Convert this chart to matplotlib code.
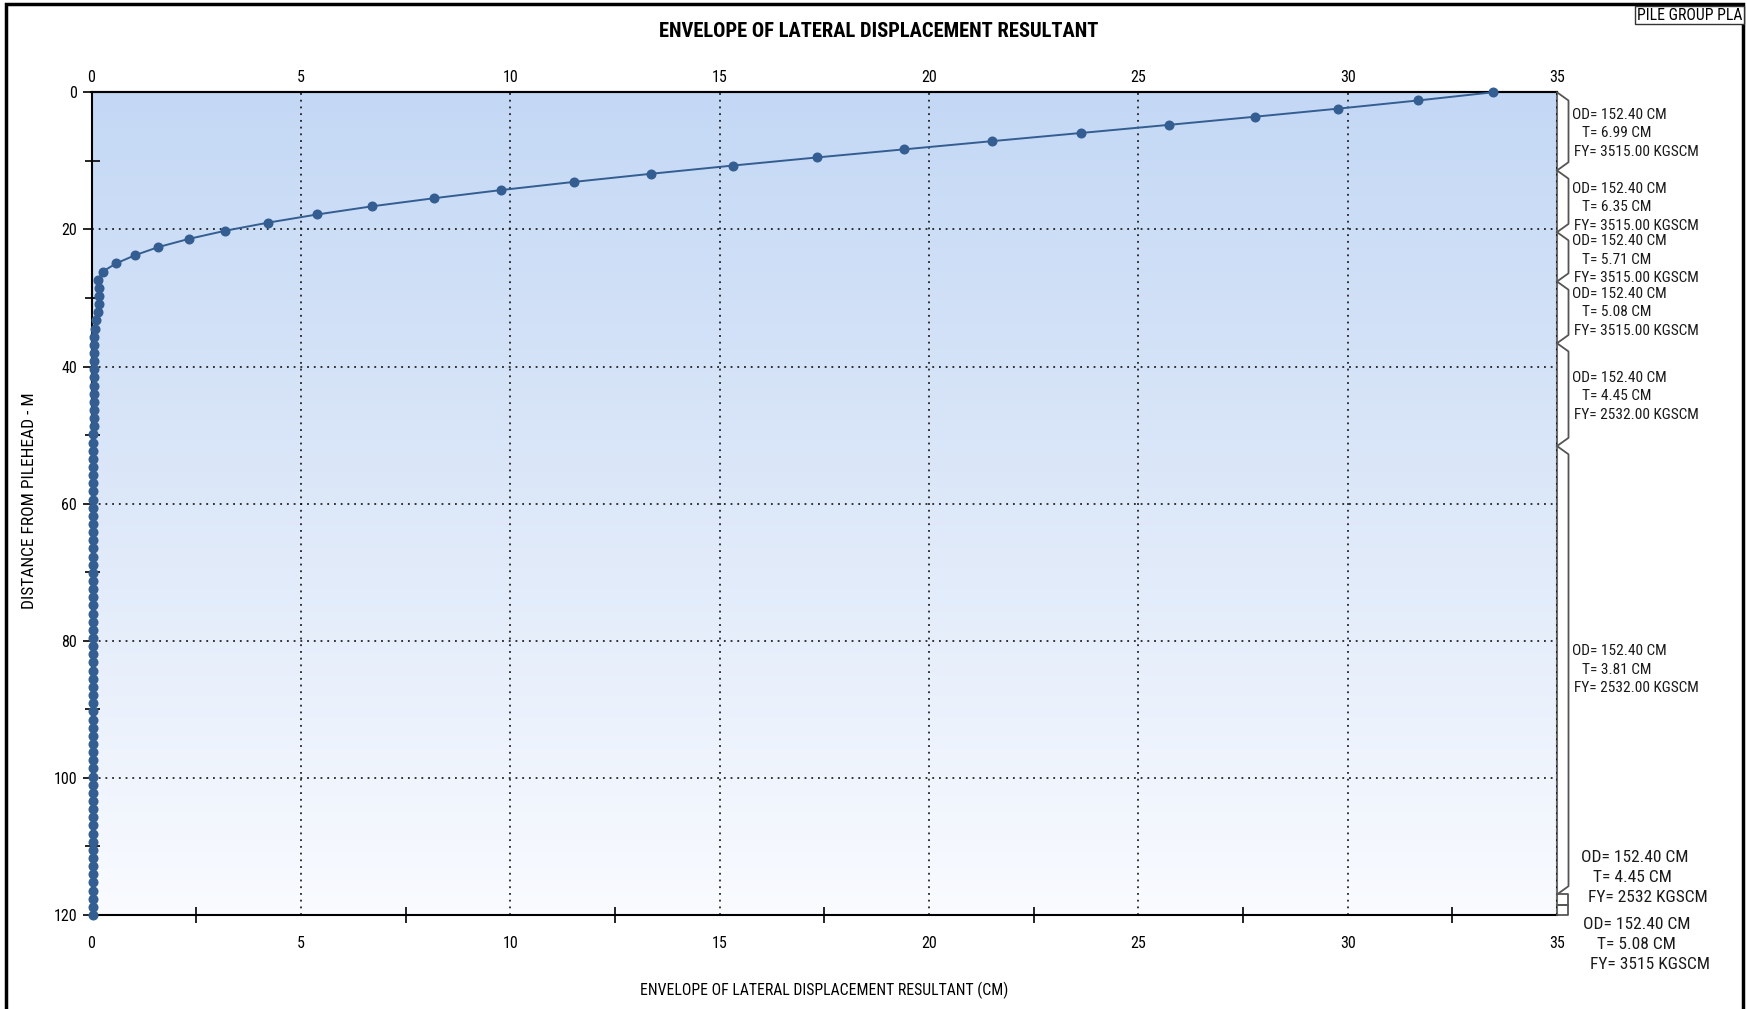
"""
Envelope of lateral displacement resultant vs depth (pile group plot)
"""
import matplotlib
matplotlib.use('Agg')
import matplotlib.pyplot as plt
import matplotlib.transforms as mtransforms
from matplotlib.colors import LinearSegmentedColormap
from matplotlib.patches import Rectangle
import numpy as np

# depth of each node along the pile (m)
depth_m = [
    0.00, 1.19, 2.38, 3.56, 4.75, 5.94, 7.13, 8.32, 9.50, 10.69,
    11.88, 13.07, 14.26, 15.45, 16.63, 17.82, 19.01, 20.20, 21.39, 22.57,
    23.76, 24.95, 26.14, 27.33, 28.51, 29.70, 30.89, 32.08, 33.27, 34.46,
    35.64, 36.83, 38.02, 39.21, 40.40, 41.58, 42.77, 43.96, 45.15, 46.34,
    47.52, 48.71, 49.90, 51.09, 52.28, 53.47, 54.65, 55.84, 57.03, 58.22,
    59.41, 60.59, 61.78, 62.97, 64.16, 65.35, 66.53, 67.72, 68.91, 70.10,
    71.29, 72.48, 73.66, 74.85, 76.04, 77.23, 78.42, 79.60, 80.79, 81.98,
    83.17, 84.36, 85.54, 86.73, 87.92, 89.11, 90.30, 91.49, 92.67, 93.86,
    95.05, 96.24, 97.43, 98.61, 99.80, 100.99, 102.18, 103.37, 104.55, 105.74,
    106.93, 108.12, 109.31, 110.50, 111.68, 112.87, 114.06, 115.25, 116.44, 117.62,
    118.81, 120.00,
]

# envelope of lateral displacement resultant (cm)
disp_cm = [
    33.47, 31.68, 29.78, 27.79, 25.73, 23.62, 21.50, 19.41, 17.33, 15.31,
    13.37, 11.52, 9.78, 8.18, 6.70, 5.39, 4.22, 3.19, 2.32, 1.60,
    1.04, 0.59, 0.27, 0.16, 0.18, 0.19, 0.18, 0.15, 0.11, 0.08,
    0.07, 0.06, 0.05, 0.05, 0.05, 0.05, 0.05, 0.05, 0.05, 0.05,
    0.05, 0.05, 0.04, 0.04, 0.04, 0.04, 0.04, 0.04, 0.04, 0.04,
    0.04, 0.04, 0.04, 0.04, 0.04, 0.04, 0.04, 0.04, 0.04, 0.04,
    0.04, 0.04, 0.04, 0.04, 0.04, 0.04, 0.04, 0.04, 0.04, 0.04,
    0.04, 0.04, 0.04, 0.04, 0.04, 0.04, 0.04, 0.04, 0.03, 0.03,
    0.03, 0.03, 0.03, 0.03, 0.03, 0.03, 0.03, 0.03, 0.03, 0.03,
    0.03, 0.03, 0.03, 0.03, 0.03, 0.03, 0.03, 0.03, 0.03, 0.03,
    0.03, 0.03,
]

x_ticks = [0, 5, 10, 15, 20, 25, 30, 35]
x_minor = [2.5, 7.5, 12.5, 17.5, 22.5, 27.5, 32.5]
y_ticks = [0, 20, 40, 60, 80, 100, 120]
y_minor = [10, 30, 50, 70, 90, 110]

# pile sections (top/bottom depths) and their properties
sec_bounds = [0, 11.4, 20.4, 27.6, 36.6, 51.6, 117.0, 118.5, 120.0]
sec_od = ['152.40', '152.40', '152.40', '152.40', '152.40', '152.40', '152.40', '152.40']
sec_t = ['6.99', '6.35', '5.71', '5.08', '4.45', '3.81', '4.45', '5.08']
sec_fy = ['3515.00', '3515.00', '3515.00', '3515.00', '2532.00', '2532.00', '2532', '3515']
label_mid = [6.0, 16.8, 24.4, 32.1, 44.35, 84.2, 114.5, 124.3]

plt.rcParams['font.family'] = ['Roboto Condensed', 'DejaVu Sans']

W, H = 1747, 1009
fig = plt.figure(figsize=(W / 100, H / 100), dpi=100)
fig.patch.set_facecolor('white')

ax_l, ax_r, ax_t, ax_b = 91.5, 1557.0, 92.3, 915.0
ax = fig.add_axes([ax_l / W, 1 - ax_b / H, (ax_r - ax_l) / W, (ax_b - ax_t) / H])
ax_w_px = ax_r - ax_l

# blue gradient background
bg = LinearSegmentedColormap.from_list('bg', ['#C4D8F5', '#DDE8F9', '#F9FBFF'])
ax.imshow(np.linspace(0, 1, 256).reshape(-1, 1), cmap=bg, aspect='auto',
          extent=[0, 35, 120, 0], zorder=0, interpolation='bilinear')

ax.plot(disp_cm, depth_m, '-o', color='#345E91', lw=1.4, ms=6.2, zorder=3, clip_on=False)

ax.set_xlim(0, 35)
ax.set_ylim(120, 0)

ax.set_xticks(x_ticks)
ax.set_xticks(x_minor, minor=True)
ax.set_yticks(y_ticks)
ax.set_yticks(y_minor, minor=True)
ax.tick_params(axis='x', which='major', length=0, pad=15, labelsize=11.5)
ax.tick_params(axis='x', which='minor', direction='inout', length=11, width=1.2)
ax.tick_params(axis='y', which='major', direction='out', length=6.3, width=1.2, pad=4, labelsize=11.5)
ax.tick_params(axis='y', which='minor', direction='inout', length=10.8, width=1.2)

top = ax.secondary_xaxis('top')
top.set_xticks(x_ticks)
top.tick_params(length=0, pad=5, labelsize=11.5)
top.spines['top'].set_linewidth(1.5)

ax.grid(True, which='major', color='black', linestyle=(0, (1.2, 3.2)), linewidth=1.1)
ax.set_axisbelow(False)

for s in ['left', 'bottom', 'top']:
    ax.spines[s].set_linewidth(1.5)
    ax.spines[s].set_color('black')
ax.spines['right'].set_color('#6a6a6a')
ax.spines['right'].set_linewidth(1.5)

ax.set_xlabel('ENVELOPE OF LATERAL DISPLACEMENT RESULTANT (CM)', fontsize=11.3)
ax.xaxis.set_label_coords(0.4998, -(990 - ax_b) / (ax_b - ax_t))
ax.xaxis.label.set_va('center')
ax.set_ylabel('DISTANCE FROM PILEHEAD - M', fontsize=12.5)
ax.yaxis.set_label_coords((30 - ax_l) / ax_w_px, 1 - (501 - ax_t) / (ax_b - ax_t))
ax.yaxis.label.set_va('center')

fig.text(879 / W, 1 - 31.5 / H, 'ENVELOPE OF LATERAL DISPLACEMENT RESULTANT',
         ha='center', va='center', fontsize=14.8, fontweight='bold')

# section brackets on the right side
trans = mtransforms.blended_transform_factory(ax.transAxes, ax.transData)
d = 11.5 / ax_w_px
e = 1.2
for a, b in zip(sec_bounds[:-1], sec_bounds[1:]):
    if b - a > 3 * e:
        xs, ys = [1, 1 + d, 1 + d, 1], [a, a + e, b - e, b]
    else:
        xs, ys = [1, 1 + d, 1 + d, 1], [a, a, b, b]
    ax.plot(xs, ys, transform=trans, color='#555555', lw=1.3, clip_on=False, zorder=4)

px2pt = 72 / 100
spacing = [2.7] * 6 + [2.95] * 2
od_off = [14.7] * 6 + [23.7, 25.7]
t_off = [24.7] * 6 + [36.3, 39.7]
fy_off = [17.3] * 6 + [30.7, 33.0]
fsize = [11.1] * 6 + [12.5] * 2
for i in range(len(sec_t)):
    lines = [('OD= %s CM' % sec_od[i], od_off[i]),
             ('T= %s CM' % sec_t[i], t_off[i]),
             ('FY= %s KGSCM' % sec_fy[i], fy_off[i])]
    for k, (txt, off) in enumerate(lines):
        ax.annotate(txt, xy=(1, label_mid[i] + (k - 1) * spacing[i]), xycoords=trans,
                    xytext=(off * px2pt, 0), textcoords='offset points',
                    ha='left', va='center', fontsize=fsize[i], color='#1a1a1a',
                    annotation_clip=False)

# outer frame and corner tag
fig.add_artist(Rectangle((6 / W, -0.05), (1743 - 6) / W, 0.05 + 1 - 3.5 / H,
                         transform=fig.transFigure, fill=False, lw=2.5, ec='black'))
fig.text(1637 / W, 1 - 15 / H, 'PILE GROUP PLA', ha='left', va='center', fontsize=11.3,
         bbox=dict(boxstyle='square,pad=0.12', fc='white', ec='#333333', lw=1))

plt.savefig('out.png', dpi=100)
plt.close()
